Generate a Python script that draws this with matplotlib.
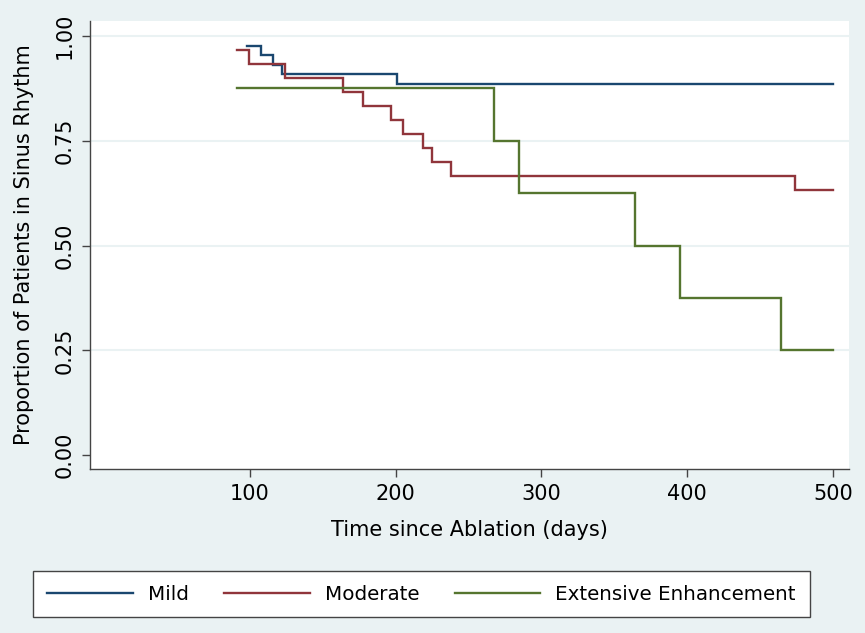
import matplotlib
matplotlib.use("Agg")
import matplotlib.pyplot as plt
from matplotlib.lines import Line2D

# Kaplan-Meier step data (time in days, proportion in sinus rhythm)
mild_t = [97.9, 107.8, 116, 121.8, 200.7, 500]
mild_s = [0.977, 0.955, 0.932, 0.909, 0.886, 0.886]

moderate_t = [90.9, 99.1, 123.8, 163.6, 177.7, 196.5, 204.8, 218.9, 225.1, 237.7, 474.1, 500]
moderate_s = [0.967, 0.933, 0.900, 0.867, 0.833, 0.800, 0.767, 0.733, 0.700, 0.667, 0.633, 0.633]

extensive_t = [90.9, 267.6, 284.8, 364.4, 394.8, 464.5, 500]
extensive_s = [0.875, 0.750, 0.625, 0.500, 0.375, 0.250, 0.250]

series_labels = ["Mild", "Moderate", "Extensive Enhancement"]
colors = ["#1a476f", "#90353b", "#55752f"]
x_ticks = [100, 200, 300, 400, 500]
y_ticks = [0.0, 0.25, 0.5, 0.75, 1.0]
y_ticklabels = ["0.00", "0.25", "0.50", "0.75", "1.00"]

BG = "#eaf2f3"
W, H = 865, 633
fig = plt.figure(figsize=(W / 100, H / 100), dpi=100, facecolor=BG)
ax = fig.add_axes([90 / W, 1 - 469 / H, (849 - 90) / W, (469 - 20.7) / H])
ax.set_facecolor("white")

for y in y_ticks[1:]:
    ax.axhline(y, color=BG, lw=1.5, zorder=0)

series = [(mild_t, mild_s), (moderate_t, moderate_s), (extensive_t, extensive_s)]
for (t, s), c, lab in zip(series, colors, series_labels):
    ax.step(t, s, where="post", color=c, lw=1.7, label=lab, solid_joinstyle="miter")

ax.set_xlim(-9.8, 511)
ax.set_ylim(-0.033, 1.0365)
ax.set_xticks(x_ticks)
ax.set_yticks(y_ticks)
ax.set_yticklabels(y_ticklabels, rotation=90, va="center")

for sp in ["top", "right"]:
    ax.spines[sp].set_visible(False)
for sp in ["left", "bottom"]:
    ax.spines[sp].set_color("#444444")
    ax.spines[sp].set_linewidth(1.0)

fs = 15
ax.tick_params(axis="both", direction="out", length=6, width=1, color="#444444",
               labelsize=fs, pad=5)
ax.set_xlabel("Time since Ablation (days)", fontsize=fs, labelpad=11)
ax.set_ylabel("Proportion of Patients in Sinus Rhythm", fontsize=fs, labelpad=15)

handles = [Line2D([], [], color=c, lw=1.7) for c in colors]
leg = fig.legend(handles, series_labels, loc="center", ncol=3,
                 bbox_to_anchor=((38 + 805) / 2 / W, 1 - 594 / H),
                 fontsize=14.3, frameon=True, fancybox=False, handlelength=4.3,
                 handletextpad=0.75, columnspacing=1.8, borderpad=0.7,
                 framealpha=1)
leg.get_frame().set_edgecolor("#444444")
leg.get_frame().set_facecolor("white")
leg.get_frame().set_linewidth(1.0)

fig.savefig("out.png", dpi=100, facecolor=BG)
